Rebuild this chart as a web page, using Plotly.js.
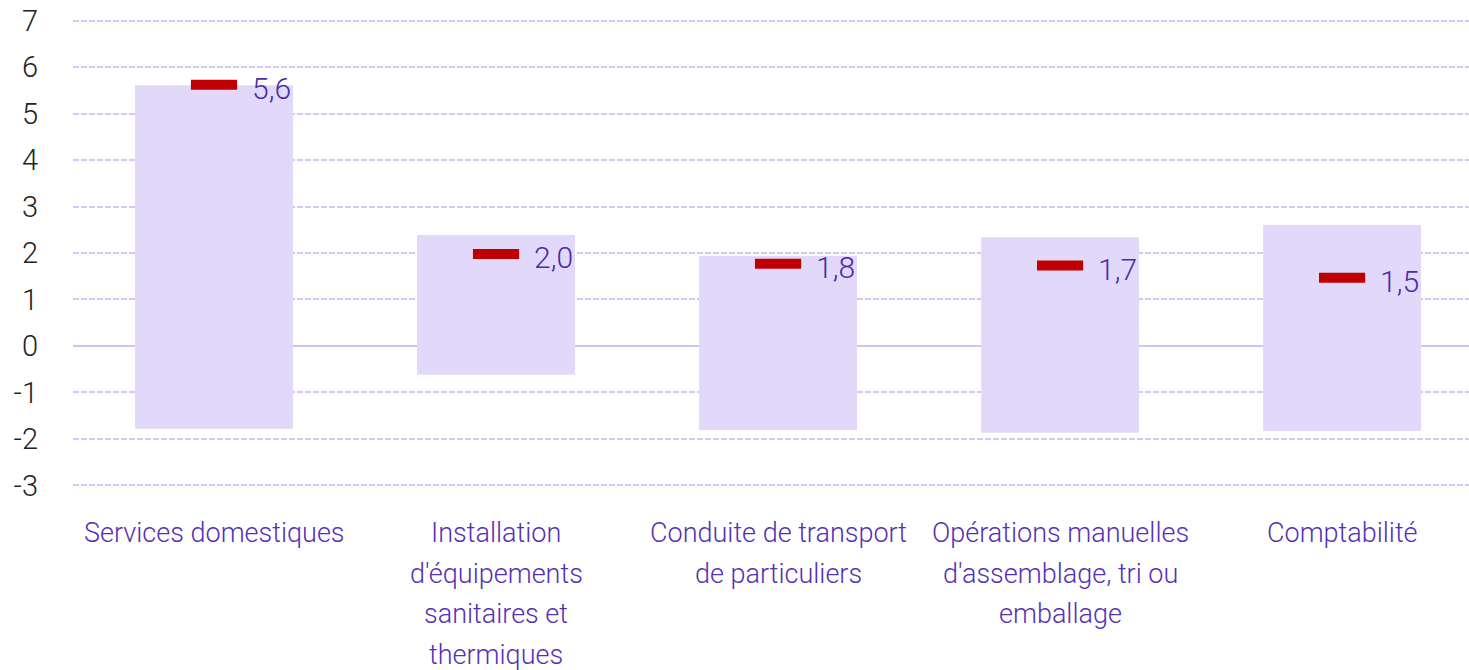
<!DOCTYPE html>
<html>
<head>
<meta charset="utf-8">
<script src="https://cdn.plot.ly/plotly-3.0.1.min.js"></script>
<style>html,body{margin:0;padding:0;background:#fff;}#chart{width:1469px;height:670px;}</style>
</head>
<body>
<div id="chart"></div>
<script>
const categories = [
  "Services domestiques",
  "Installation\nd'équipements\nsanitaires et\nthermiques",
  "Conduite de transport\nde particuliers",
  "Opérations manuelles\nd'assemblage, tri ou\nemballage",
  "Comptabilité"
];
const rangeMin = [-1.78, -0.62, -1.81, -1.87, -1.83];
const rangeMax = [5.61, 2.39, 1.94, 2.34, 2.60];
const values = [5.62, 1.98, 1.77, 1.73, 1.47];
const valueLabels = ["5,6", "2,0", "1,8", "1,7", "1,5"];
const yTicks = [-3, -2, -1, 0, 1, 2, 3, 4, 5, 6, 7];

const FONT = 'Roboto, sans-serif';
const catKeys = categories.map((c, i) => 'c' + i);

const barTrace = {
  type: 'bar',
  x: catKeys,
  y: rangeMax.map((v, i) => v - rangeMin[i]),
  base: rangeMin,
  width: 0.56,
  marker: {color: '#e2d9fa'},
  hoverinfo: 'skip'
};
const markTrace = {
  type: 'scatter',
  mode: 'markers',
  x: catKeys,
  y: values,
  marker: {symbol: 'line-ew-open', size: 33, line: {width: 10, color: '#c00000'}, color: '#c00000'},
  cliponaxis: false,
  hoverinfo: 'skip'
};

const annotations = [];
values.forEach((v, i) => {
  annotations.push({
    x: catKeys[i], y: v, xref: 'x', yref: 'y',
    text: valueLabels[i], showarrow: false,
    xanchor: 'left', yanchor: 'middle', xshift: 36, yshift: -4,
    font: {family: FONT, size: 30, weight: 300, color: '#4a2bab'}
  });
});
categories.forEach((c, i) => {
  c.split('\n').forEach((line, j) => {
    annotations.push({
      x: catKeys[i], y: 0, xref: 'x', yref: 'paper',
      text: line, showarrow: false,
      xanchor: 'center', yanchor: 'middle', yshift: -43 - j * 40.5,
      font: {family: FONT, size: 27, weight: 300, color: '#5530b5'}
    });
  });
});

const layout = {
  width: 1469, height: 670,
  margin: {l: 73, r: 0, t: 16, b: 180},
  paper_bgcolor: '#ffffff', plot_bgcolor: '#ffffff',
  showlegend: false,
  font: {family: FONT},
  annotations: annotations,
  xaxis: {
    type: 'category',
    range: [-0.5, 4.45],
    showgrid: false, zeroline: false, showline: false, ticks: '',
    showticklabels: false
  },
  yaxis: {
    range: [-3.1, 7.1],
    tickvals: yTicks,
    ticktext: yTicks.map(String),
    showgrid: true, gridcolor: '#d4c8f6', griddash: '6px,2px', gridwidth: 2,
    zeroline: true, zerolinecolor: '#d0c3f5', zerolinewidth: 2,
    showline: false, ticks: '',
    tickfont: {family: FONT, size: 29, weight: 300, color: '#222222'},
    ticklabelstandoff: 34
  }
};

Plotly.newPlot('chart', [barTrace, markTrace], layout, {displayModeBar: false, staticPlot: true});
</script>
</body>
</html>
